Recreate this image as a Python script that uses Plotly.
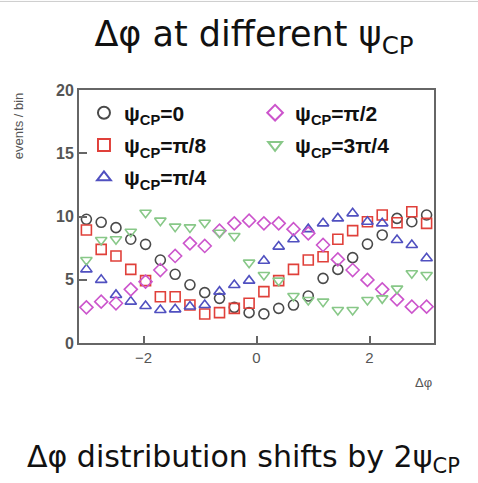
import numpy as np
import plotly.graph_objects as go

# 24 bins over [-pi, pi]
n_bins = 24
edges = np.linspace(-np.pi, np.pi, n_bins + 1)
dphi = list((edges[:-1] + edges[1:]) / 2)

psi0 = [9.78, 9.54, 9.12, 8.2, 7.8, 6.56, 5.43, 4.6, 3.98, 3.53, 2.82, 2.4,
        2.3, 2.74, 3.0, 3.71, 5.11, 5.82, 6.75, 7.82, 8.54, 9.85, 9.59, 10.12]
psi_pi8 = [8.93, 7.4, 6.88, 5.82, 4.93, 3.66, 3.66, 3.0, 2.29, 2.4, 2.74, 3.14,
           4.06, 4.93, 5.82, 6.56, 6.82, 8.2, 8.88, 9.59, 10.12, 9.51, 10.38, 9.46]
psi_pi4 = [5.82, 4.99, 3.8, 3.27, 2.93, 2.61, 2.66, 2.88, 3.0, 4.06, 4.58, 4.93,
           6.5, 7.62, 8.2, 9.0, 9.46, 9.85, 10.25, 9.59, 9.46, 8.14, 7.75, 6.7]
psi_pi2 = [2.82, 3.27, 3.14, 4.24, 4.85, 5.77, 6.88, 7.88, 7.67, 8.88, 9.46, 9.67,
           9.46, 9.46, 9.0, 8.67, 7.75, 6.61, 5.77, 4.99, 4.24, 3.45, 2.87, 2.87]
psi_3pi4 = [6.56, 8.14, 8.2, 8.8, 10.3, 9.67, 9.2, 9.14, 9.51, 8.72, 8.46, 6.35,
            5.38, 4.93, 3.72, 3.4, 3.27, 2.61, 2.61, 3.4, 3.53, 4.3, 5.51, 5.38]

series_names = ["ψ<sub>CP</sub>=0", "ψ<sub>CP</sub>=π/8", "ψ<sub>CP</sub>=π/4",
                "ψ<sub>CP</sub>=π/2", "ψ<sub>CP</sub>=3π/4"]
series_vals = [psi0, psi_pi8, psi_pi4, psi_pi2, psi_3pi4]
colors = ["#4a4a4a", "#e0403a", "#5050c0", "#cc55cc", "#88c888"]
symbols = ["circle-open", "square-open", "triangle-up-open", "diamond-open", "triangle-down-open"]
legend_ids = ["legend", "legend", "legend", "legend2", "legend2"]

fig = go.Figure()
for name, vals, col, sym, lg in zip(series_names, series_vals, colors, symbols, legend_ids):
    fig.add_trace(go.Scatter(
        x=dphi, y=vals, mode="markers", name=name, legend=lg, legendgroup=name,
        marker=dict(symbol=sym, size=10, color=col, line=dict(width=1.6, color=col)),
    ))

font = "Liberation Sans, Arial, sans-serif"
legfont = dict(family=font, size=21, color="#111", weight="bold")
legcommon = dict(orientation="v", xanchor="left", yanchor="top",
                 bgcolor="rgba(0,0,0,0)", font=legfont,
                 itemsizing="constant", traceorder="grouped", tracegroupgap=2)
fig.update_layout(
    width=478, height=483,
    margin=dict(l=79, r=44, t=90, b=140),
    paper_bgcolor="white", plot_bgcolor="white",
    showlegend=True,
    legend=dict(x=0.014, y=0.99, **legcommon),
    legend2=dict(x=0.496, y=0.99, **legcommon),
    title=dict(text="Δφ at different ψ<sub>CP</sub>", x=254 / 478, xanchor="center",
               y=0.955, yanchor="top",
               font=dict(family="DejaVu Sans, sans-serif", size=35, color="#111")),
    xaxis=dict(
        range=[-np.pi, np.pi], tickvals=[-2, 0, 2], ticktext=["−2", "0", "2"],
        ticks="inside", ticklen=7, tickwidth=1.5, tickcolor="#666",
        showline=True, linecolor="#666", linewidth=2, mirror=True,
        showgrid=False, zeroline=False,
        tickfont=dict(family=font, size=15, color="#555"),
    ),
    yaxis=dict(
        range=[0, 20], tickvals=[0, 5, 10, 15, 20],
        ticks="inside", ticklen=8, tickwidth=1.5, tickcolor="#666",
        showline=True, linecolor="#666", linewidth=2, mirror=True,
        showgrid=False, zeroline=False,
        tickfont=dict(family=font, size=16, color="#555", weight="bold"),
    ),
    annotations=[
        dict(text="events / bin", textangle=-90, xref="paper", yref="paper",
             x=-0.17, y=1.0, xanchor="center", yanchor="top", showarrow=False,
             font=dict(family=font, size=13, color="#555")),
        dict(text="Δφ", xref="paper", yref="paper", x=1.0, y=-0.12,
             xanchor="right", yanchor="top", showarrow=False,
             font=dict(family=font, size=13, color="#555")),
        dict(text="Δφ distribution shifts by 2ψ<sub>CP</sub>", xref="paper", yref="paper",
             x=0.5, xanchor="center", y=-0.37, yanchor="top", showarrow=False,
             xshift=-13,
             font=dict(family="DejaVu Sans, sans-serif", size=30, color="#111")),
    ],
    shapes=[dict(type="line", xref="paper", yref="paper", x0=-0.3, x1=1.2, y0=1.35, y1=1.35,
                 line=dict(color="#cccccc", width=1))],
)

fig.write_html("out.html")
